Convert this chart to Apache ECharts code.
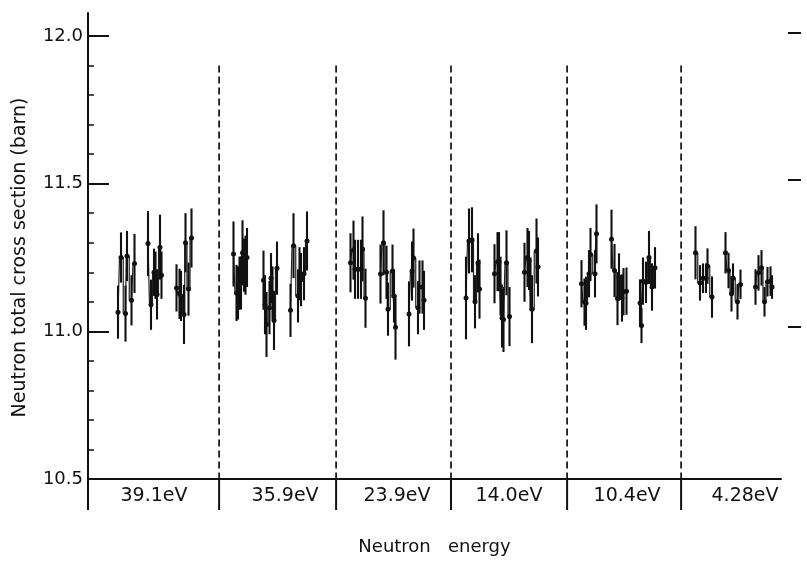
<!DOCTYPE html>
<html>
<head>
<meta charset="utf-8">
<script src="https://cdn.jsdelivr.net/npm/echarts@6/dist/echarts.min.js"></script>
<style>
html,body{margin:0;padding:0;background:#fff;}
#chart{width:807px;height:562px;}
</style>
</head>
<body>
<div id="chart"></div>
<script>
// ---- Data (channel position, cross section in barn, error) ; null separates clusters ----
const groupLabels = ['39.1eV', '35.9eV', '23.9eV', '14.0eV', '10.4eV', '4.28eV'];
const labelPos = [22, 65.7, 103, 140.3, 179.7, 219];
const boundaries = [0, 43.7, 82.7, 121, 159.7, 197.7];
const yTicks = [10.5, 11.0, 11.5, 12.0];
const rightTicks = [11.0, 11.5, 12.0];
const dashTop = 11.9;

const ch39 = [10, 11, 12.5, 13, 14.5, 15.5, null, 20, 21, 22, 22.5, 23, 24, 24.5, null, 29.5, 30.5, 31, 32, 32.5, 33.5, 34.5];
const val39 = [11.065, 11.25, 11.06, 11.255, 11.105, 11.23, null, 11.297, 11.09, 11.20, 11.19, 11.125, 11.285, 11.19, null, 11.147, 11.127, 11.12, 11.057, 11.30, 11.143, 11.316];
const err39 = [0.09, 0.085, 0.095, 0.085, 0.085, 0.10, null, 0.11, 0.085, 0.08, 0.08, 0.085, 0.11, 0.08, null, 0.08, 0.085, 0.085, 0.10, 0.10, 0.09, 0.10];

const ch359 = [48.5, 49.5, 50, 50.5, 51, 51.5, 52, 52.5, 53, null, 58.5, 59, 59.5, 60.5, 61, 61.5, 62, 63, null, 67.5, 68.5, 70, 70.5, 71, 72, 73];
const val359 = [11.262, 11.13, 11.13, 11.163, 11.164, 11.266, 11.224, 11.224, 11.25, null, 11.173, 11.09, 11.023, 11.08, 11.18, 11.13, 11.037, 11.214, null, 11.071, 11.29, 11.12, 11.195, 11.175, 11.195, 11.306];
const err359 = [0.11, 0.095, 0.09, 0.09, 0.09, 0.11, 0.09, 0.10, 0.10, null, 0.10, 0.10, 0.11, 0.09, 0.085, 0.09, 0.10, 0.09, null, 0.09, 0.11, 0.09, 0.09, 0.09, 0.09, 0.10];

const ch239 = [87.5, 88.5, 89, 90, 91, 91.5, 92.5, null, 97.5, 98.5, 99.5, 100, 101.5, 102, 102.5, null, 107, 108, 108.5, 110, 110.5, 111.5, 112];
const val239 = [11.232, 11.275, 11.21, 11.21, 11.21, 11.279, 11.112, null, 11.194, 11.30, 11.20, 11.075, 11.204, 11.12, 11.014, null, 11.059, 11.204, 11.248, 11.08, 11.15, 11.15, 11.105];
const err239 = [0.10, 0.10, 0.10, 0.10, 0.10, 0.11, 0.10, null, 0.10, 0.11, 0.09, 0.09, 0.09, 0.09, 0.11, null, 0.11, 0.10, 0.10, 0.09, 0.09, 0.09, 0.10];

const ch140 = [126, 127, 128, 129, 130, 130.5, null, 135.5, 136.5, 137, 137.5, 138, 138.5, 139.5, 140.5, null, 145.5, 146.5, 147, 147.5, 148, 149.5, 150];
const val140 = [11.113, 11.306, 11.31, 11.10, 11.232, 11.143, null, 11.195, 11.236, 11.236, 11.153, 11.045, 11.04, 11.232, 11.05, null, 11.20, 11.25, 11.24, 11.16, 11.075, 11.272, 11.218];
const err140 = [0.14, 0.11, 0.11, 0.09, 0.10, 0.10, null, 0.10, 0.10, 0.10, 0.10, 0.10, 0.11, 0.11, 0.10, null, 0.10, 0.10, 0.10, 0.09, 0.115, 0.11, 0.10];

const ch104 = [164.5, 165.5, 166, 167, 167.5, 169, 169.5, null, 174.5, 175.5, 176.5, 177, 178, 178.5, 179.5, null, 184, 184.5, 185, 186, 187, 188, 189];
const val104 = [11.161, 11.099, 11.095, 11.195, 11.26, 11.195, 11.33, null, 11.312, 11.206, 11.111, 11.184, 11.113, 11.134, 11.136, null, 11.096, 11.02, 11.17, 11.166, 11.25, 11.15, 11.215];
const err104 = [0.08, 0.08, 0.09, 0.08, 0.09, 0.08, 0.10, null, 0.10, 0.09, 0.09, 0.08, 0.08, 0.08, 0.08, null, 0.08, 0.06, 0.08, 0.07, 0.09, 0.08, 0.07];

const ch428 = [202.5, 204, 205, 206, 206.5, 208, null, 212.5, 213.5, 214.5, 215, 216.5, 217.5, null, 222.5, 223.5, 224.5, 225.5, 226.5, 227.5, 228];
const val428 = [11.266, 11.164, 11.18, 11.18, 11.221, 11.116, null, 11.266, 11.206, 11.127, 11.18, 11.10, 11.159, null, 11.15, 11.198, 11.215, 11.10, 11.168, 11.17, 11.15];
const err428 = [0.09, 0.06, 0.05, 0.05, 0.06, 0.07, null, 0.07, 0.06, 0.06, 0.05, 0.06, 0.05, null, 0.06, 0.06, 0.06, 0.05, 0.05, 0.05, 0.04];

const groups = [
  [ch39, val39, err39], [ch359, val359, err359], [ch239, val239, err239],
  [ch140, val140, err140], [ch104, val104, err104], [ch428, val428, err428]
];

// ---- build series data ----
const errData = [];
const stepData = [];
groups.forEach(function (g) {
  for (let i = 0; i < g[0].length; i++) {
    if (g[0][i] === null) { stepData.push([null, null]); continue; }
    errData.push([g[0][i], g[1][i], g[2][i]]);
    stepData.push([g[0][i], g[1][i]]);
  }
  stepData.push([null, null]);
});

const FONT = 'DejaVu Sans';
const chart = echarts.init(document.getElementById('chart'), null, { renderer: 'canvas' });

const option = {
  backgroundColor: '#ffffff',
  animation: false,
  grid: [
    { left: 88, right: 26, top: 36, bottom: 83 },           // main plot
    { left: 88, right: 26, top: 13, height: 23 },           // axis extension above 12.0
    { left: 788, width: 14, top: 33, height: 294 }          // right-hand tick marks
  ],
  xAxis: [
    {
      gridIndex: 0, type: 'value', min: 0, max: 231,
      axisLine: { show: true, onZero: false, lineStyle: { color: '#111', width: 2 } },
      axisTick: { show: false }, axisLabel: { show: false }, splitLine: { show: false },
      name: 'Neutron   energy', nameLocation: 'middle', nameGap: 59,
      nameTextStyle: { fontFamily: FONT, fontSize: 18, color: '#111' }
    },
    { gridIndex: 1, type: 'value', min: 0, max: 1, show: false },
    { gridIndex: 2, type: 'value', min: 0, max: 1, show: false }
  ],
  yAxis: [
    {
      gridIndex: 0, type: 'value', min: yTicks[0], max: yTicks[yTicks.length - 1], interval: 0.5,
      axisLine: { show: true, onZero: false, lineStyle: { color: '#111', width: 2 } },
      axisTick: { show: true, inside: true, length: 21, lineStyle: { color: '#111', width: 2 } },
      minorTick: { show: true, splitNumber: 5, length: 6, lineStyle: { color: '#111', width: 1.5 } },
      splitLine: { show: false },
      axisLabel: { margin: 5, fontFamily: FONT, fontSize: 18, color: '#111',
        formatter: function (v) { return v.toFixed(1); } },
      name: 'Neutron total cross section (barn)', nameLocation: 'middle', nameGap: 58,
      nameTextStyle: { fontFamily: FONT, fontSize: 19, color: '#111' }
    },
    {
      gridIndex: 1, type: 'value', min: 0, max: 1,
      axisLine: { show: true, lineStyle: { color: '#111', width: 2 } },
      axisTick: { show: false }, axisLabel: { show: false }, splitLine: { show: false }
    },
    {
      gridIndex: 2, type: 'value', min: rightTicks[0], max: rightTicks[rightTicks.length - 1], interval: 0.5,
      axisLine: { show: false },
      axisTick: { show: true, inside: true, length: 13, lineStyle: { color: '#111', width: 2 } },
      axisLabel: { show: false }, splitLine: { show: false }
    }
  ],
  series: [
    {
      // separators between energy groups (dashed inside the frame, solid below the axis)
      type: 'custom', xAxisIndex: 0, yAxisIndex: 0, clip: false, silent: true, z: 1,
      data: boundaries.map(function (b, i) { return [b, i]; }),
      renderItem: function (params, api) {
        const x = api.value(0);
        const idx = api.value(1);
        const pBase = api.coord([x, yTicks[0]]);
        const pTop = api.coord([x, dashTop]);
        const children = [{
          type: 'line',
          shape: { x1: pBase[0], y1: pBase[1], x2: pBase[0], y2: pBase[1] + 31 },
          style: { stroke: '#111', lineWidth: 2 }
        }];
        if (idx > 0) {
          children.push({
            type: 'line',
            shape: { x1: pTop[0], y1: pTop[1], x2: pBase[0], y2: pBase[1] },
            style: { stroke: '#111', lineWidth: 1.7, lineDash: [7, 4] }
          });
        }
        return { type: 'group', children: children };
      }
    },
    {
      // group energy labels
      type: 'custom', xAxisIndex: 0, yAxisIndex: 0, clip: false, silent: true,
      data: labelPos.map(function (p, i) { return [p, i]; }),
      renderItem: function (params, api) {
        const p = api.coord([api.value(0), yTicks[0]]);
        return {
          type: 'text',
          style: {
            x: p[0], y: p[1] + 17, text: groupLabels[api.value(1)],
            textAlign: 'center', textVerticalAlign: 'middle',
            font: '19px "' + FONT + '"', fill: '#111'
          }
        };
      }
    },
    {
      // step connection within each cluster
      type: 'line', xAxisIndex: 0, yAxisIndex: 0, data: stepData, step: 'middle',
      connectNulls: false, showSymbol: false, silent: true,
      lineStyle: { color: '#222', width: 1.2 }, z: 2
    },
    {
      // error bars with data points
      type: 'custom', xAxisIndex: 0, yAxisIndex: 0, silent: true, z: 3,
      data: errData,
      renderItem: function (params, api) {
        const x = api.value(0), v = api.value(1), e = api.value(2);
        const lo = api.coord([x, v - e]);
        const hi = api.coord([x, v + e]);
        const c = api.coord([x, v]);
        return {
          type: 'group',
          children: [
            { type: 'line', shape: { x1: lo[0], y1: lo[1], x2: hi[0], y2: hi[1] },
              style: { stroke: '#111', lineWidth: 2.1 } },
            { type: 'circle', shape: { cx: c[0], cy: c[1], r: 2.5 },
              style: { fill: '#111' } }
          ]
        };
      }
    }
  ]
};
chart.setOption(option);
</script>
</body>
</html>
